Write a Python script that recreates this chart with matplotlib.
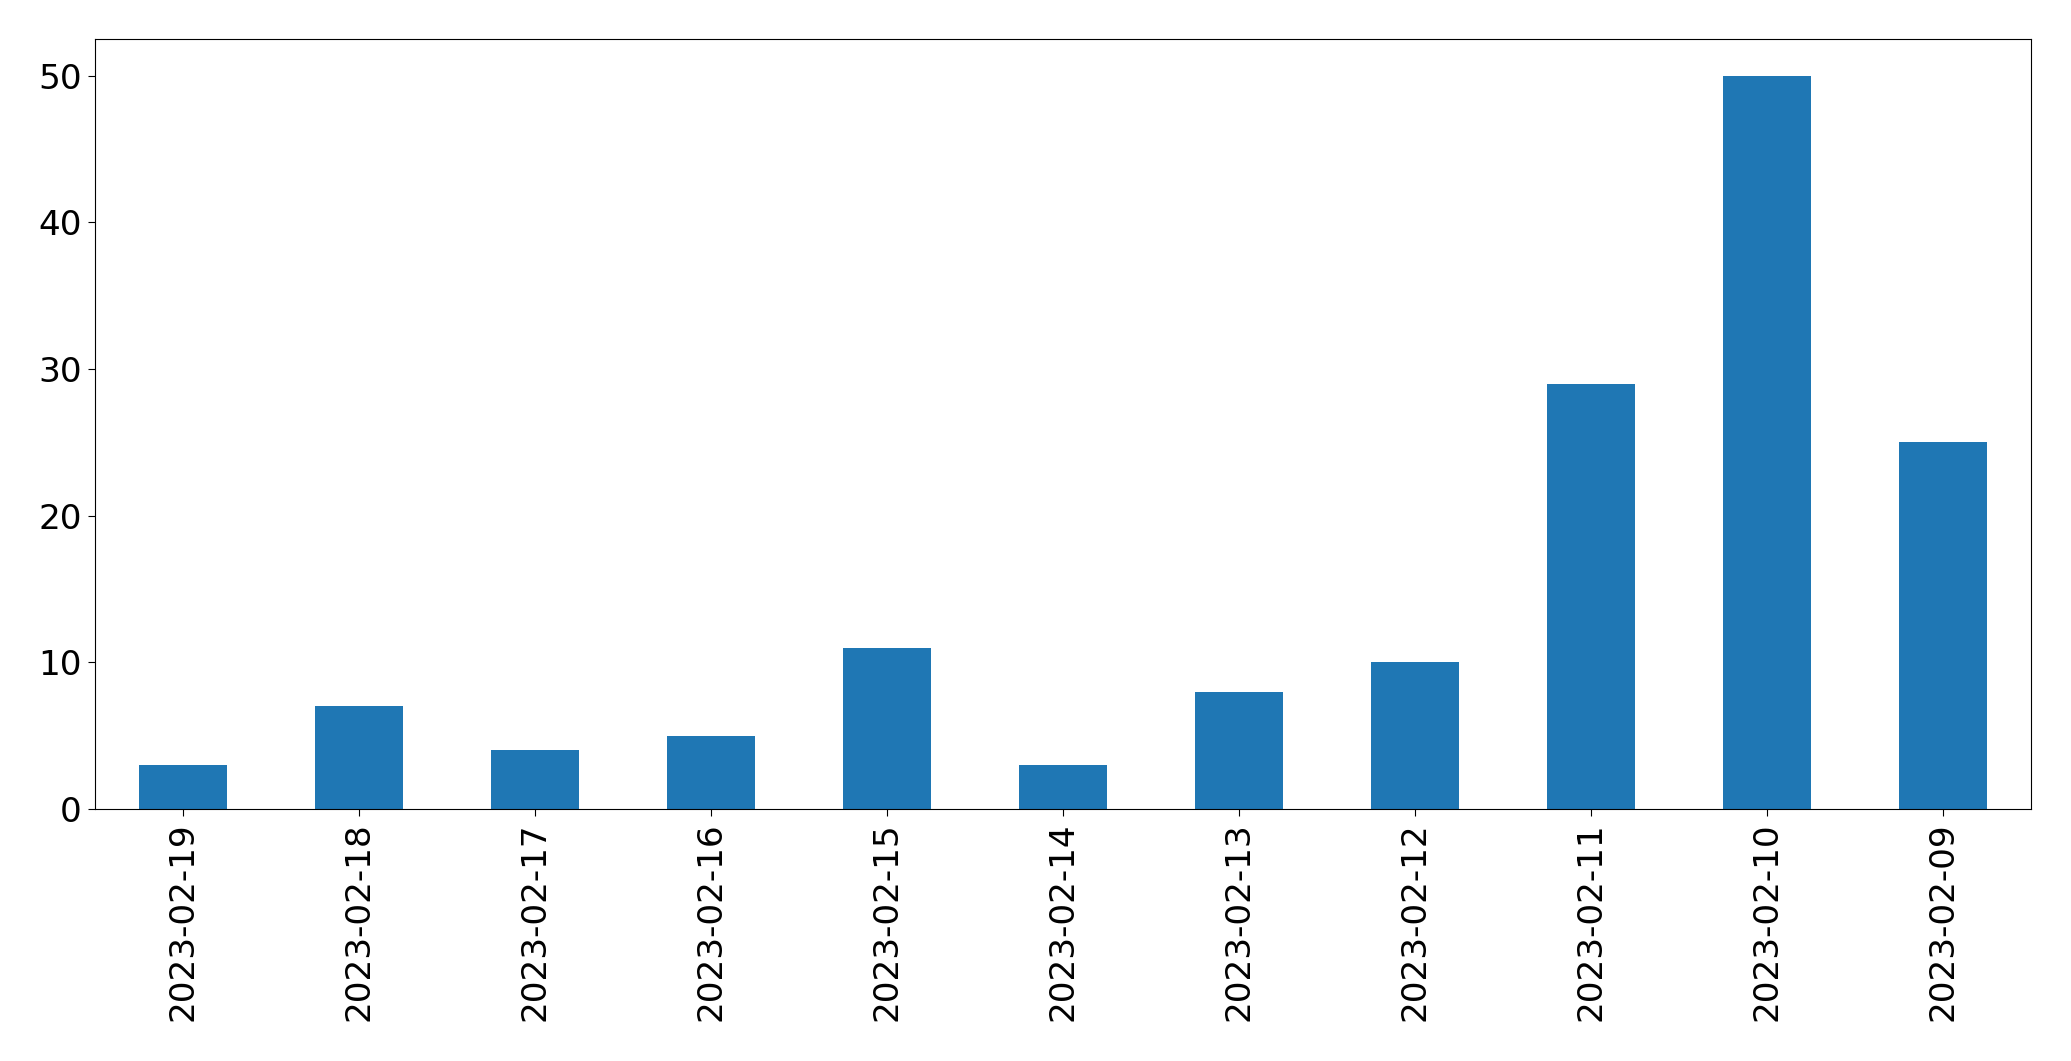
import matplotlib
matplotlib.use("Agg")
import matplotlib.pyplot as plt
import pandas as pd

dates = ["2023-02-19", "2023-02-18", "2023-02-17", "2023-02-16", "2023-02-15",
         "2023-02-14", "2023-02-13", "2023-02-12", "2023-02-11", "2023-02-10",
         "2023-02-09"]
counts = [3, 7, 4, 5, 11, 3, 8, 10, 29, 50, 25]

s = pd.Series(counts, index=dates)

fig = plt.figure(figsize=(20.71, 10.61), dpi=100)
ax = fig.add_subplot(111)
s.plot(kind="bar", ax=ax, color="#1f77b4", fontsize=24.7)
ax.tick_params(length=5, pad=4.5)
plt.subplots_adjust(left=0.0459, right=0.9807, top=0.9632, bottom=0.2375)
plt.savefig("out.png", dpi=100)
